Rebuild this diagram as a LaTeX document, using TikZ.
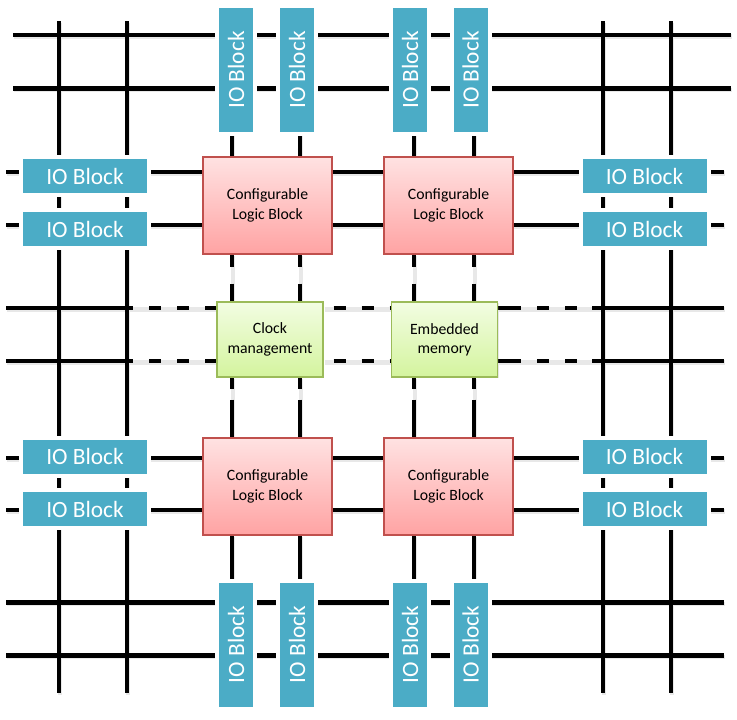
\documentclass[tikz,border=0pt]{standalone}
\usepackage{fontspec}
\setmainfont{Carlito}
\usepackage{tikz}
\usetikzlibrary{positioning, shadows, backgrounds}
\definecolor{ioblue}{RGB}{75, 172, 198}
\definecolor{clbtop}{RGB}{255, 226, 226}
\definecolor{clbbot}{RGB}{255, 163, 163}
\definecolor{clbedge}{RGB}{192, 80, 77}
\definecolor{clktop}{RGB}{242, 253, 226}
\definecolor{clkbot}{RGB}{212, 244, 158}
\definecolor{clkedge}{RGB}{155, 187, 89}

\tikzset{
  wire/.style={line width=3.4pt},
  upgap/.style={dash pattern=on 9pt off 12.75pt on 60pt},
  lowgap/.style={dash pattern=on 8.25pt off 8.25pt on 60pt},
  leftgap/.style={dash pattern=on 9pt off 12pt, dash phase=9pt},
  midgap/.style={dash pattern=on 9pt off 12pt, dash phase=13.5pt},
  rightgap/.style={dash pattern=on 17.25pt off 12pt on 9pt off 12pt on 9pt off 12pt},
  shadowpass/.style={draw=black!9, transform canvas={shift={(0.9pt,-1.2pt)}},
    upgap/.style={}, lowgap/.style={}, leftgap/.style={}, midgap/.style={}, rightgap/.style={}},
  mainpass/.style={draw=black},
  ioblock/.style={fill=ioblue, draw=white, line width=3pt, inner sep=0pt,
    minimum width=96pt, minimum height=28.5pt, text=white,
    font={\fontsize{17.5}{20}\selectfont},
    drop shadow={shadow xshift=1pt, shadow yshift=-1.2pt, opacity=0.28}},
  iovert/.style={ioblock, minimum width=28.5pt, minimum height=96pt},
  clb/.style={top color=clbtop, bottom color=clbbot, draw=clbedge, line width=0.8pt,
    minimum width=96.75pt, minimum height=72.75pt, align=center, inner sep=0pt,
    font={\fontsize{11.8}{14.5}\selectfont},
    drop shadow={shadow xshift=0.8pt, shadow yshift=-0.8pt, opacity=0.2}},
  memblock/.style={clb, top color=clktop, bottom color=clkbot, draw=clkedge,
    minimum width=79.5pt, minimum height=56.25pt},
}

\begin{document}
\begin{tikzpicture}[x=0.75pt, y=-0.75pt]
  \useasboundingbox (0,0) rectangle (737,719);

  % logic and memory
  \node[clb] (clbA) at (267.5,205.5) {Configurable\\Logic Block};
  \node[clb] (clbB) at (448.5,205.5) {Configurable\\Logic Block};
  \node[clb] (clbC) at (267.5,486.5) {Configurable\\Logic Block};
  \node[clb] (clbD) at (448.5,486.5) {Configurable\\Logic Block};
  \node[memblock] (clock) at (270,339.5) {Clock\\management};
  \node[memblock] (mem) at (444.5,339.5) {Embedded\\memory};

  % io blocks
  \foreach \n/\y in {1/176, 2/229, 3/456.5, 4/509}{
    \node[ioblock] (l\n) at (85,\y) {IO Block};
    \node[ioblock] (r\n) at (644.5,\y) {IO Block};
  }
  \foreach \n/\x in {1/236, 2/297, 3/410, 4/470.5}{
    \node[iovert] (t\n) at (\x,70) {\rotatebox{90}{IO Block}};
    \node[iovert] (b\n) at (\x,644.5) {\rotatebox{90}{IO Block}};
  }

  % routing wires
  \begin{scope}[on background layer]
    \foreach \pass in {shadowpass, mainpass}{
      \begin{scope}[\pass, wire]
        \foreach \y in {35, 88.5} \draw (13,\y) -- (731,\y);
        \foreach \y in {172, 225, 458, 510, 602.5, 655.5} \draw (6,\y) -- (724,\y);
        \foreach \x in {59, 127, 603, 671} \draw (\x,21) -- (\x,693);
        \foreach \y in {308, 361}{
          \draw (6,\y) -- (133,\y);
          \draw[leftgap] (133,\y) -- (clock.west |- 0,\y);
          \draw[midgap] (clock.east |- 0,\y) -- (mem.west |- 0,\y);
          \draw[rightgap] (mem.east |- 0,\y) -- (592,\y);
          \draw (592,\y) -- (724,\y);
        }
        \foreach \x/\hi/\blk/\lo in {232/clbA/clock/clbC, 300/clbA/clock/clbC,
                                     414/clbB/mem/clbD, 474/clbB/mem/clbD}{
          \draw (\x,21) -- (\hi.north -| \x,0);
          \draw[upgap] (\hi.south -| \x,0) -- (\blk.north -| \x,0);
          \draw[lowgap] (\blk.south -| \x,0) -- (\lo.north -| \x,0);
          \draw (\lo.south -| \x,0) -- (\x,693);
        }
      \end{scope}
    }
  \end{scope}
\end{tikzpicture}
\end{document}
